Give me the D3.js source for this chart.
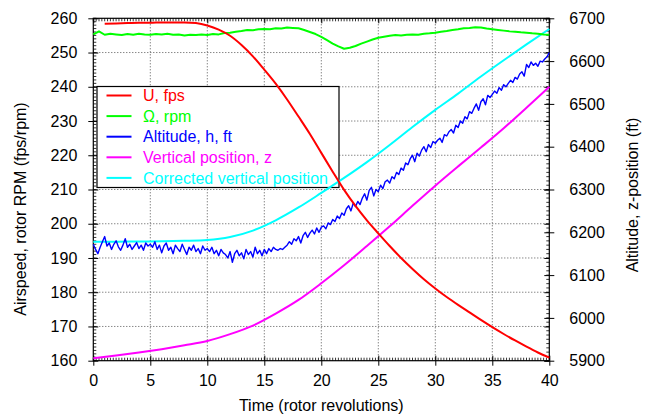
<!DOCTYPE html>
<html><head><meta charset="utf-8">
<script src="https://cdn.jsdelivr.net/npm/d3@7"></script>
<style>body{margin:0;background:#fff}svg{display:block}text{font-family:"Liberation Sans",Arial,sans-serif}</style>
</head><body>
<svg id="c" width="650" height="418"></svg>
<script>
// ---- data ----
const xTicks = [0,5,10,15,20,25,30,35,40];
const leftTicks = [160,170,180,190,200,210,220,230,240,250,260];
const rightTicks = [5900,6000,6100,6200,6300,6400,6500,6600,6700];

// U, fps (left axis)
const uTime = [1,2,3,4,5,6,7,8,9,10,11,12,13,14,15,16,17,18,19,20,21,22,23,24,25,26,27,28,29,30,31,32,33,34,35,36,37,38,39,40];
const uVals = [258.4,258.5,258.6,258.7,258.7,258.8,258.8,258.8,258.6,257.9,256.7,254.9,252.2,248.9,245.0,240.9,236.3,231.3,226.2,220.7,215.2,209.9,205.2,201.0,197.2,193.5,190.0,186.8,183.8,181.1,178.6,176.3,174.1,171.9,169.8,167.8,165.9,164.1,162.4,160.9];

// Omega, rpm (left axis), every 0.5 rev
const omegaVals = [255.3,256.2,255.2,255.5,255.3,255.1,255.4,255.2,255.5,255.3,255.2,255.4,255.3,255.5,255.2,255.3,255.0,255.2,255.1,255.3,255.1,255.4,255.3,255.7,255.8,256.1,256.3,256.6,256.5,256.8,256.9,256.8,257.1,257.0,257.3,257.2,257.1,256.6,256.0,255.4,254.6,253.6,252.6,251.8,251.1,251.4,251.9,252.6,253.2,253.8,254.3,254.6,254.9,255.1,255.0,255.2,255.3,255.2,255.5,255.6,255.8,256.1,256.3,256.6,256.8,257.1,257.2,257.4,257.3,257.0,256.8,256.6,256.4,256.2,256.1,255.9,255.8,255.6,255.5,255.3,255.2];

// Altitude h, ft (right axis), every 0.2 rev
const altVals = [
6172,6160,6150,6165,6178,6190,6168,6175,6160,6172,6180,6166,6158,6170,6185,6165,6172,6160,6168,6176,6162,6170,6158,6175,6168,6172,
6165,6178,6160,6170,6152,6168,6175,6158,6165,6150,6170,6162,6155,6172,6160,6148,6165,6158,6170,6155,6162,6150,6168,6158,6162,
6155,6165,6150,6158,6145,6160,6152,6148,6140,6155,6130,6150,6158,6145,6152,6138,6160,6148,6155,6142,6165,6150,6158,6145,6160,
6150,6162,6155,6165,6160,6158,6162,6160,6165,6170,6178,6172,6185,6180,6190,6175,6192,6200,6188,6198,6205,6196,6210,6200,6212,
6215,6208,6222,6218,6230,6225,6238,6232,6245,6240,6255,6262,6250,6268,6260,6272,6265,6280,6290,6275,6298,6305,6285,6300,6295,
6310,6302,6318,6322,6315,6330,6325,6340,6335,6350,6345,6362,6358,6372,6380,6365,6385,6378,6392,6400,6388,6405,6398,6412,6408,
6415,6420,6410,6428,6425,6435,6440,6432,6450,6445,6460,6455,6470,6465,6482,6478,6490,6500,6485,6505,6512,6498,6520,6515,6522,
6530,6525,6538,6532,6545,6540,6548,6555,6550,6562,6558,6570,6575,6565,6592,6585,6598,6590,6595,6588,6600,6598,6605,6610,6620];

// z positions (right axis), every 2 rev
const zTime = [0,2,4,6,8,10,12,14,16,18,20,22,24,26,28,30,32,34,36,38,40];
const zVals = [5905.6,5912,5919,5927,5936,5946,5962,5982,6010,6042,6081,6123,6168,6214,6262,6309,6354,6398,6443,6491,6540];
const zcVals = [6178,6178,6178.5,6179,6180,6182,6189,6204,6228,6258,6292,6327,6364,6404,6446,6486,6524,6564,6602,6639,6675];

const seriesNames = ["U, fps","\u03A9, rpm","Altitude, h, ft","Vertical position, z","Corrected vertical position"];
const seriesColors = ["#ff0000","#00ff00","#0000ff","#ff00ff","#00ffff"];

// ---- chart ----
const svg = d3.select("#c");
const X0 = 93.3, X1 = 549.3, Y0 = 360.7, Y1 = 18.3;
const x = d3.scaleLinear().domain([0,40]).range([X0,X1]);
const yL = d3.scaleLinear().domain([160,260]).range([Y0,Y1]);
const yR = d3.scaleLinear().domain([5900,6700]).range([Y0,Y1]);

// grid
const grid = svg.append("g").attr("stroke","#555").attr("stroke-width",1).attr("stroke-dasharray","1,2");
grid.selectAll(".gx").data(xTicks.slice(1,-1)).join("line")
  .attr("x1",d=>x(d)).attr("x2",d=>x(d)).attr("y1",Y1).attr("y2",Y0);
grid.selectAll(".gy").data(leftTicks.slice(1,-1)).join("line")
  .attr("y1",d=>yL(d)).attr("y2",d=>yL(d)).attr("x1",X0).attr("x2",X1);

// minor ticks
const minor = svg.append("g").attr("stroke","#000").attr("stroke-width",0.8);
const xm = d3.range(0,40.001,0.25);
minor.selectAll(".mb").data(xm).join("line").attr("x1",d=>x(d)).attr("x2",d=>x(d)).attr("y1",Y0).attr("y2",Y0-3);
minor.selectAll(".mt").data(xm).join("line").attr("x1",d=>x(d)).attr("x2",d=>x(d)).attr("y1",Y1).attr("y2",Y1+3);
const ym = d3.range(160,260.001,1);
minor.selectAll(".ml").data(ym).join("line").attr("y1",d=>yL(d)).attr("y2",d=>yL(d)).attr("x1",X0).attr("x2",X0+3);
const rm = d3.range(5900,6700.001,10);
minor.selectAll(".mr").data(rm).join("line").attr("y1",d=>yR(d)).attr("y2",d=>yR(d)).attr("x1",X1).attr("x2",X1-3);

// axes
const fs = "16px";
const axB = svg.append("g").attr("transform",`translate(0,${Y0})`)
  .call(d3.axisBottom(x).tickValues(xTicks).tickSizeInner(-5).tickSizeOuter(0).tickPadding(14));
const axT = svg.append("g").attr("transform",`translate(0,${Y1})`)
  .call(d3.axisTop(x).tickValues(xTicks).tickSize(-5).tickFormat(""));
const axL = svg.append("g").attr("transform",`translate(${X0},0)`)
  .call(d3.axisLeft(yL).tickValues(leftTicks).tickSizeInner(5).tickSizeOuter(0).tickPadding(11));
axL.selectAll(".tick line").attr("x1",5);
const axLR = svg.append("g").attr("transform",`translate(${X1},0)`)
  .call(d3.axisRight(yL).tickValues(leftTicks).tickSize(-5).tickFormat(""));
const axR = svg.append("g").attr("transform",`translate(${X1},0)`)
  .call(d3.axisRight(yR).tickValues(rightTicks).tickFormat(d3.format("d")).tickSizeInner(5).tickSizeOuter(0).tickPadding(15));
axR.selectAll(".tick line").attr("x1",-5);
axB.selectAll(".tick line").attr("y1",5);
[axB,axT,axL,axLR,axR].forEach(a=>{
  a.selectAll("text").attr("font-size",fs).attr("fill","#000").attr("font-family","Liberation Sans, Arial, sans-serif");
  a.selectAll("path.domain").remove();
  a.selectAll(".tick line").attr("stroke","#000");
});
svg.append("rect").attr("x",X0).attr("y",Y1).attr("width",X1-X0).attr("height",Y0-Y1)
  .attr("fill","none").attr("stroke","#000").attr("stroke-width",1.2);

// titles
svg.append("text").attr("x",(X0+X1)/2).attr("y",411).attr("text-anchor","middle").attr("font-size",fs).text("Time (rotor revolutions)");
svg.append("text").attr("transform","translate(26,209) rotate(-90)").attr("text-anchor","middle").attr("font-size",fs).text("Airspeed, rotor RPM (fps/rpm)");
svg.append("text").attr("transform","translate(638,195) rotate(-90)").attr("text-anchor","middle").attr("font-size",fs).text("Altitude, z-position (ft)");

// legend
const lg = svg.append("g");
lg.append("rect").attr("x",97).attr("y",86.5).attr("width",242).attr("height",101)
  .attr("fill","#fff").attr("stroke","#000").attr("stroke-width",1.2);
const rowY = i => 95.5 + i*20.6;
seriesNames.forEach((n,i)=>{
  lg.append("line").attr("x1",106.5).attr("x2",131.5).attr("y1",rowY(i)).attr("y2",rowY(i))
    .attr("stroke",seriesColors[i]).attr("stroke-width",2);
  lg.append("text").attr("x",143).attr("y",rowY(i)).attr("dy","0.36em").attr("font-size",fs)
    .attr("fill",seriesColors[i]).text(n);
});

// data lines
const smoothL = d3.line().x(d=>x(d[0])).y(d=>yL(d[1])).curve(d3.curveMonotoneX);
const smoothR = d3.line().x(d=>x(d[0])).y(d=>yR(d[1])).curve(d3.curveMonotoneX);
const linL = d3.line().x(d=>x(d[0])).y(d=>yL(d[1]));
const linR = d3.line().x(d=>x(d[0])).y(d=>yR(d[1]));
const dg = svg.append("g").attr("fill","none").attr("stroke-linejoin","round");
dg.append("path").attr("d",smoothR(zTime.map((t,i)=>[t,zVals[i]]))).attr("stroke",seriesColors[3]).attr("stroke-width",2);
dg.append("path").attr("d",smoothR(zTime.map((t,i)=>[t,zcVals[i]]))).attr("stroke",seriesColors[4]).attr("stroke-width",2);
dg.append("path").attr("d",linR(altVals.map((v,i)=>[i*0.2,v]))).attr("stroke",seriesColors[2]).attr("stroke-width",1.4);
dg.append("path").attr("d",linL(omegaVals.map((v,i)=>[i*0.5,v]))).attr("stroke",seriesColors[1]).attr("stroke-width",2);
dg.append("path").attr("d",smoothL(uTime.map((t,i)=>[t,uVals[i]]))).attr("stroke",seriesColors[0]).attr("stroke-width",2);
</script>
</body></html>
